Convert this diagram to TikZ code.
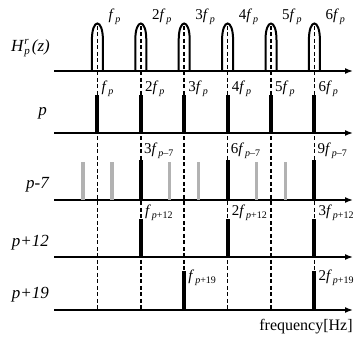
\documentclass[tikz,border=0pt]{standalone}
\usepackage{fontspec}
\setmainfont{Liberation Serif}
\usetikzlibrary{arrows.meta,calc}
\newcommand{\hf}[2]{#1\textit{f}\kern1pt\raisebox{-0.5ex}{\fontsize{10}{10}\selectfont#2}}
\tikzset{
  axisline/.style={
    line width=1.5pt,
    -{Latex[length=8pt,width=6pt]}
  },
  guide/.style={
    line width=1.5pt,
    dash pattern=on 4pt off 2.5pt
  },
  spike/.style={
    line width=4pt
  },
  ghost/.style={
    line width=3.4pt,
    gray!60
  },
  lobe/.style={
    line width=2pt
  },
  harm/.style={
    anchor=west,
    inner sep=0pt,
    font=\fontsize{15}{17}\selectfont
  },
  rowname/.style={
    anchor=east,
    inner sep=0pt,
    font=\fontsize{17}{19}\selectfont\itshape
  }
}

\begin{document}
\begin{tikzpicture}[x=1pt,y=-1pt]
  \useasboundingbox (0,0) rectangle (357,337);
  \def\fp{43.4}
  % axis end points
  \foreach \r/\y in {hr/71,p/133,pm/200,pa/257,pb/310}{
      \coordinate (\r-start) at (54,\y);
      \coordinate (\r-end) at (353,\y);
    }
  % guides and filter lobes
  \foreach \k/\n in {1/{},2/2,3/3,4/4,5/5,6/6}{
      \pgfmathsetmacro{\xk}{54+\k*\fp}
      \coordinate (top\k) at (\xk,26);
      \coordinate (bot\k) at (\xk,310);
      \draw[guide] (top\k) -- (bot\k);
      \draw[lobe] (\xk-5.5,71) -- (\xk-5.5,40) .. controls (\xk-5.5,18) and (\xk+5.5,18) .. (\xk+5.5,40) -- (\xk+5.5,71);
      \node[harm] (hr\k) at (\xk+11,17) {\hf{\n}{\textit{p}}};
    }
  \foreach \r in {hr,p,pm,pa,pb}{
      \draw[axisline] (\r-start) -- (\r-end);
    }
  % row p
  \foreach \k/\n in {1/{},2/2,3/3,4/4,5/5,6/6}{
      \pgfmathsetmacro{\xk}{54+\k*\fp}
      \coordinate (p\k) at (\xk,133);
      \draw[spike] (p\k) -- ++(0,-38);
      \node[harm] (lp\k) at (\xk+4,89) {\hf{\n}{\textit{p}}};
    }
  % row p-7
  \foreach \j in {1,2,4,5,7,8}{
      \pgfmathsetmacro{\xj}{54+\j*\fp*2/3}
      \coordinate (pm\j) at (\xj,200);
      \draw[ghost] (pm\j) -- ++(0,-38);
    }
  \foreach \j in {3,6,9}{
      \pgfmathsetmacro{\xj}{54+\j*\fp*2/3}
      \coordinate (pm\j) at (\xj,200);
      \draw[spike] (pm\j) -- ++(0,-40);
      \node[harm] (lpm\j) at (\xj+3,151) {\hf{\j}{\textit{p}–7}};
    }
  % row p+12
  \foreach \j/\n in {1/{},2/2,3/3}{
      \pgfmathsetmacro{\xj}{54+2*\j*\fp}
      \coordinate (pa\j) at (\xj,257);
      \draw[spike] (pa\j) -- ++(0,-38);
      \node[harm] (lpa\j) at (\xj+4,213) {\hf{\n}{\textit{p}+12}};
    }
  % row p+19
  \foreach \j/\n in {1/{},2/2}{
      \pgfmathsetmacro{\xj}{54+3*\j*\fp}
      \coordinate (pb\j) at (\xj,310);
      \draw[spike] (pb\j) -- ++(0,-39);
      \node[harm] (lpb\j) at (\xj+4,278) {\hf{\n}{\textit{p}+19}};
    }
  % row names
  \node[rowname] (nhr) at (50,48) {H\kern1pt\raisebox{-0.3ex}{\fontsize{11}{11}\selectfont\shortstack[l]{r\\[1pt]p}}\kern2pt(z)};
  \node[rowname] (np) at (47,113) {p};
  \node[rowname] (npm) at (49,185) {p-7};
  \node[rowname] (npa) at (49,243) {p+12};
  \node[rowname] (npb) at (49,295) {p+19};
  \node[font=\fontsize{16}{18}\selectfont] (freq) at (306,327) {frequency[Hz]};
\end{tikzpicture}
\end{document}
